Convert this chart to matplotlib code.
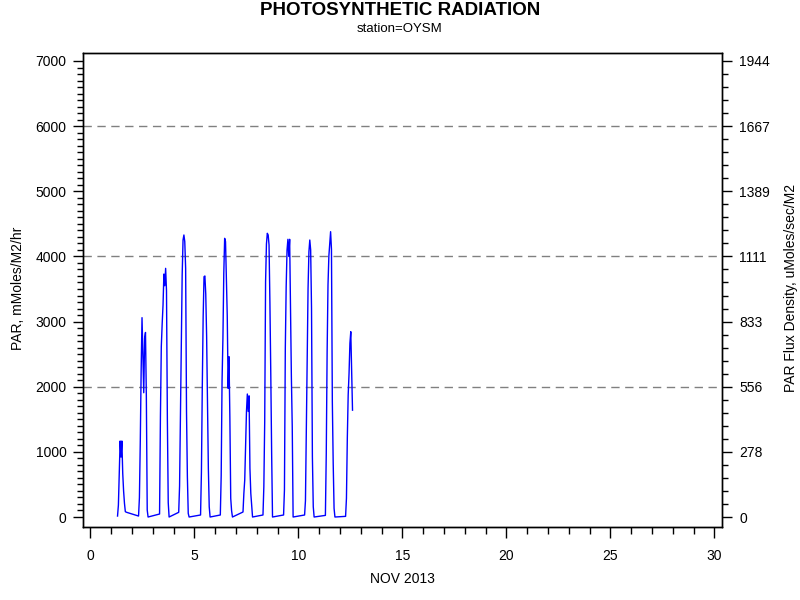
"""
Photosynthetic radiation at station OYSM, November 2013.
"""

import numpy as np
import matplotlib
matplotlib.use("Agg")
import matplotlib.pyplot as plt
from matplotlib.ticker import FixedLocator


plt.rcParams["font.family"] = ["Liberation Sans", "DejaVu Sans"]


# time (day of month) of the first hourly reading of each day
day_start = [1.31, 2.32, 3.33, 4.25, 5.30, 6.25, 7.34, 8.30, 9.29, 10.30, 11.30, 12.27]

# hourly PAR readings, mMoles/M2/hr, one list per day (daylight part)
day1 = [15, 184, 670, 1167, 920, 1167, 670, 399, 210, 82, 75, 70]
day2 = [15, 297, 1157, 2241, 3060, 2488, 1908, 2743, 2833, 1847, 107, 0]
day3 = [46, 1550, 2614, 2962, 3254, 3730, 3550, 3817, 3474, 1500, 220, 0]
day4 = [72, 476, 1581, 2804, 3715, 4252, 4329, 4226, 3817, 1617, 619, 56, 0]
day5 = [31, 686, 2000, 3070, 3689, 3700, 3423, 2778, 1822, 747, 158, 0]
day6 = [31, 634, 2088, 2743, 3741, 4278, 4226, 3638, 3085, 1976, 2461, 1540, 287, 97, 0]
day7 = [77, 363, 568, 1080, 1617, 1888, 1620, 1860, 747, 363, 184, 0]
day8 = [31, 465, 1463, 3612, 4191, 4355, 4329, 4175, 3290, 2206, 978, 0]
day9 = [31, 415, 2590, 3535, 4098, 4263, 4000, 4263, 3228, 2153, 1386, 0]
day10 = [31, 250, 1361, 2538, 3510, 4073, 4252, 4100, 3203, 926, 158, 0]
day11 = [25, 978, 2538, 3561, 4006, 4201, 4380, 4109, 1770, 824, 133, 0]
day12 = [10, 287, 1208, 1873, 2206, 2667, 2845, 2230, 1640]

days = [day1, day2, day3, day4, day5, day6, day7, day8, day9, day10, day11, day12]

# mMoles/M2/hr -> uMoles/sec/M2
flux_factor = 3.6

left_ticks = [0, 1000, 2000, 3000, 4000, 5000, 6000, 7000]
x_ticks = [0, 5, 10, 15, 20, 25, 30]
grid_levels = [2000, 4000, 6000]


time = []
par = []
for start, vals in zip(day_start, days):
    time.extend(start + np.arange(len(vals)) / 24.0)
    par.extend(vals)


fig = plt.figure(figsize=(8, 6), dpi=100)
ax = fig.add_axes([0.104, 0.1217, 0.799, 0.79])

ax.plot(time, par, color="#0000ff", linewidth=1.0)

for g in grid_levels:
    ax.axhline(g, color="#808080", linewidth=1.0, linestyle=(0, (6, 4)), zorder=0)

ax.set_xlim(-0.34, 30.38)
ax.set_ylim(-153, 7123)

ax.set_xticks(x_ticks)
ax.xaxis.set_minor_locator(FixedLocator(np.arange(0, 31, 1)))
ax.set_yticks(left_ticks)
ax.yaxis.set_minor_locator(FixedLocator(np.arange(0, 7001, 100)))

ax.tick_params(axis="both", which="major", direction="out", length=7, width=1,
               labelsize=10, pad=5)
ax.tick_params(axis="both", which="minor", direction="out", length=4, width=1)
ax.tick_params(axis="x", which="major", length=8, pad=8)
ax.tick_params(axis="x", which="minor", length=5)

# right axis in flux density units
ax2 = ax.twinx()
ax2.set_ylim(ax.get_ylim())
ax2.set_yticks(left_ticks)
ax2.set_yticklabels([f"{round(v / flux_factor)}" for v in left_ticks])
ax2.yaxis.set_minor_locator(FixedLocator(np.arange(0, 7001, 200)))
ax2.tick_params(axis="y", which="major", direction="out", length=7, width=1,
                labelsize=10, pad=5)
ax2.tick_params(axis="y", which="minor", direction="out", length=4, width=1)

for a in (ax, ax2):
    for s in a.spines.values():
        s.set_linewidth(1.0)

# axis titles
fig.text(0.022, 0.52, "PAR, mMoles/M2/hr", rotation=90, ha="center", va="center",
         fontsize=10)
fig.text(0.989, 0.52, "PAR Flux Density, uMoles/sec/M2", rotation=90,
         ha="center", va="center", fontsize=10)
fig.text(0.503, 0.035, "NOV 2013", ha="center", va="center", fontsize=10)

fig.text(0.5, 0.983, "PHOTOSYNTHETIC RADIATION", ha="center", va="center",
         fontsize=13.5, fontweight="bold")
fig.text(0.5, 0.952, "station=OYSM", ha="center", va="center", fontsize=9.5)

fig.savefig("out.png", dpi=100)
